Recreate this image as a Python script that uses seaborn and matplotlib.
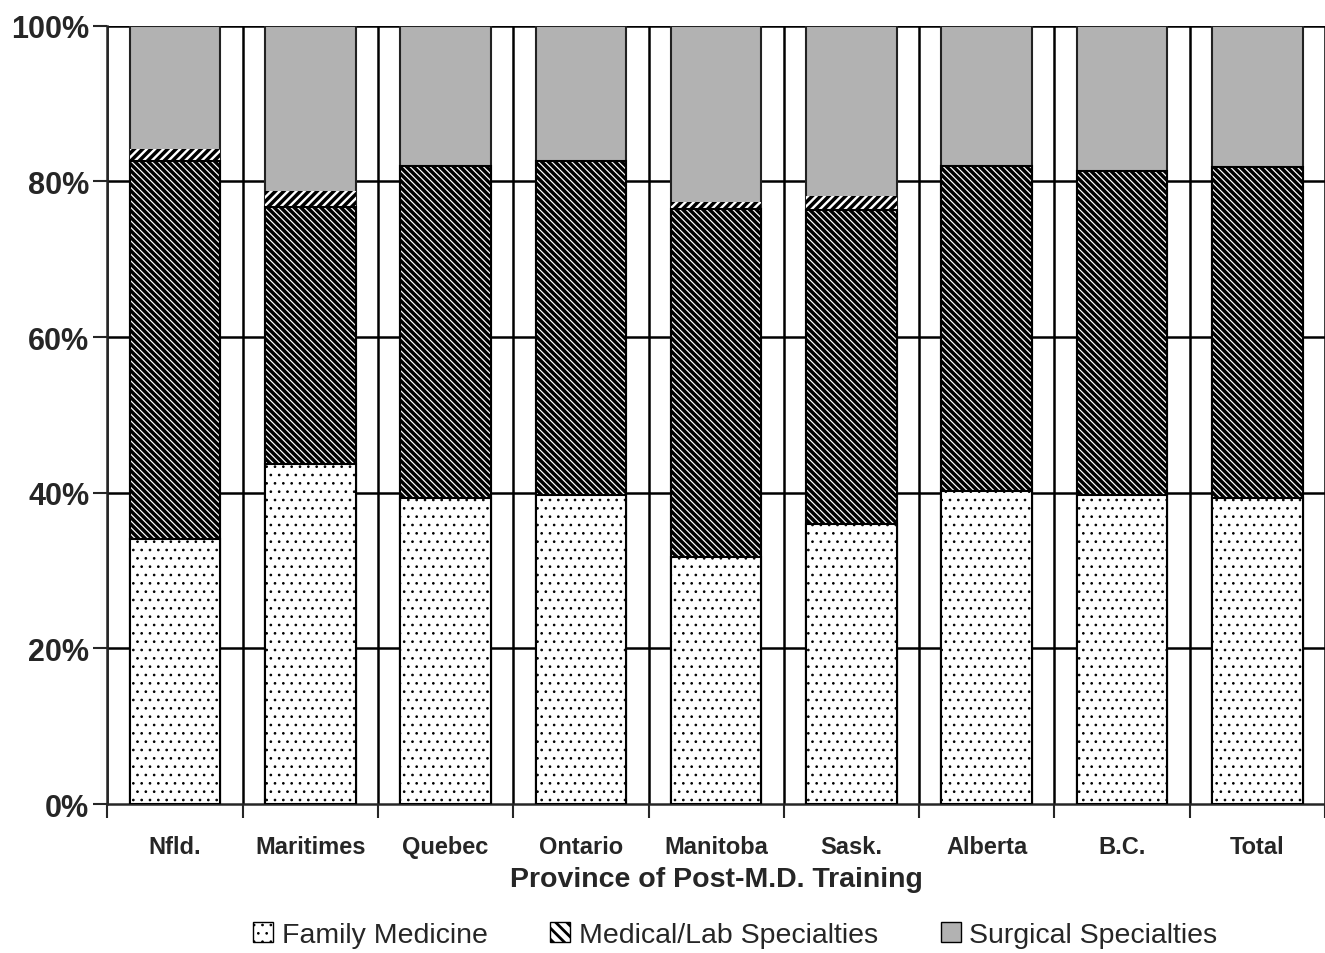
import numpy as np
import pandas as pd
import seaborn as sns
import matplotlib.pyplot as plt
from matplotlib.patches import Patch

# share of post-M.D. trainees by field, percent
provinces = ["Nfld.", "Maritimes", "Quebec", "Ontario", "Manitoba", "Sask.", "Alberta", "B.C.", "Total"]
family_med = [34.1, 43.7, 39.3, 39.7, 31.7, 36.0, 40.2, 39.7, 39.3]
medical_lab = [48.5, 33.0, 42.7, 42.9, 44.8, 40.3, 41.8, 41.7, 42.6]
other = [1.6, 2.1, 0.0, 0.0, 0.9, 1.8, 0.0, 0.0, 0.0]
surgical = [15.8, 21.2, 18.0, 17.4, 22.6, 21.9, 18.0, 18.6, 18.1]

sns.set_style("white")
plt.rcParams['font.family'] = ['Liberation Sans', 'DejaVu Sans']
plt.rcParams['hatch.linewidth'] = 2.5

df = pd.DataFrame({"prov": provinces, "fm": family_med, "med": medical_lab,
                   "oth": other, "surg": surgical})
df["c1"] = df["fm"]
df["c2"] = df["c1"] + df["med"]
df["c3"] = df["c2"] + df["oth"]
df["c4"] = df["c3"] + df["surg"]

fig = plt.figure(figsize=(13.25, 9.54), dpi=100)
ax = fig.add_axes([0.081, 0.156, 0.919, 0.816])

w = 0.67
MED_HATCH = "\\" * 5
# draw cumulative totals from the top down
sns.barplot(data=df, x="prov", y="c4", color="#b2b2b2", edgecolor="#222222",
            linewidth=1.5, width=w, ax=ax, zorder=3)
sns.barplot(data=df, x="prov", y="c3", color="white", edgecolor="black",
            hatch="////", linewidth=0, width=w, ax=ax, zorder=3)
sns.barplot(data=df, x="prov", y="c2", color="white", edgecolor="black",
            hatch=MED_HATCH, linewidth=1.5, width=w, ax=ax, zorder=3)
sns.barplot(data=df, x="prov", y="c1", color="white", edgecolor="black",
            hatch="..", linewidth=1.5, width=w, ax=ax, zorder=3)

# thinner hatch for the dotted bars
for p in ax.patches[-len(provinces):]:
    if hasattr(p, "set_hatch_linewidth"):
        p.set_hatch_linewidth(0.7)

ax.set_xlim(-0.5, len(provinces) - 0.5)
ax.set_ylim(0, 100)
ax.set_yticks([0, 20, 40, 60, 80, 100])
ax.set_yticklabels(["0%", "20%", "40%", "60%", "80%", "100%"],
                   fontsize=22, fontweight="bold")
ax.set_xticks(range(len(provinces)))
ax.set_xticklabels(provinces, fontsize=17, fontweight="bold")
ax.tick_params(axis="x", length=0, pad=22)
ax.tick_params(axis="y", length=10, width=1.5, direction="out", left=True, pad=3)

# boundary gridlines between categories
ax.set_xticks(np.arange(-0.5, len(provinces), 1.0), minor=True)
ax.tick_params(axis="x", which="minor", length=10, width=1.5, direction="out", bottom=True)
for xb in np.arange(-0.5, len(provinces), 1.0):
    ax.axvline(xb, color="black", lw=1.8, zorder=1)
for yv in [20, 40, 60, 80, 100]:
    ax.axhline(yv, color="black", lw=1.8, zorder=1)

for s in ["top", "right"]:
    ax.spines[s].set_visible(False)
ax.spines["left"].set_linewidth(1.8)
ax.spines["bottom"].set_linewidth(1.8)

ax.set_xlabel("Province of Post-M.D. Training", fontsize=20.5, fontweight="bold", labelpad=6)
ax.set_ylabel("")

handles = [Patch(facecolor="white", edgecolor="black", hatch="..", label="Family Medicine"),
           Patch(facecolor="white", edgecolor="black", hatch="\\\\\\", label="Medical/Lab Specialties"),
           Patch(facecolor="#b2b2b2", edgecolor="black", label="Surgical Specialties")]
leg = fig.legend(handles=handles, loc="lower center", bbox_to_anchor=(0.555, -0.022), ncol=3,
                 frameon=False, fontsize=20.5, handlelength=0.7, handleheight=0.7,
                 handletextpad=0.3, columnspacing=2.2)
for p, lw in zip(leg.get_patches(), [0.7, 2.0, 1.0]):
    if hasattr(p, "set_hatch_linewidth"):
        p.set_hatch_linewidth(lw)

fig.savefig("out.png", dpi=100)
